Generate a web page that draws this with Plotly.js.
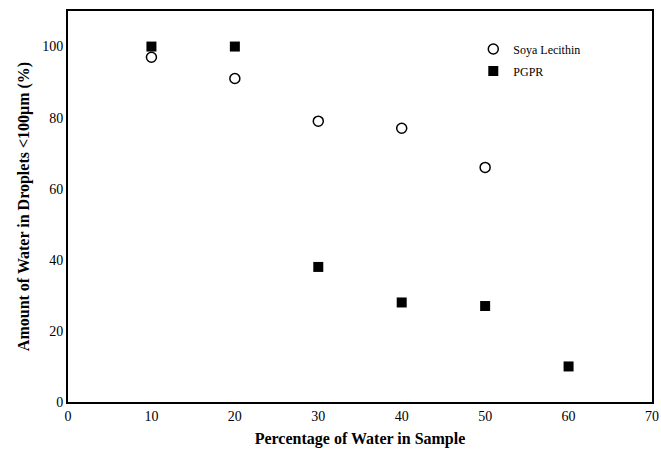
<!DOCTYPE html>
<html><head><meta charset="utf-8">
<script src="https://cdn.plot.ly/plotly-3.0.1.min.js"></script>
<style>body{margin:0;padding:0;background:#fff}#chart{width:661px;height:451px}</style>
</head><body><div id="chart"></div>
<script>
const soyaX = [10, 20, 30, 40, 50];
const soyaY = [97, 91, 79, 77, 66];
const pgprX = [10, 20, 30, 40, 50, 60];
const pgprY = [100, 100, 38, 28, 27, 10];
const xTicks = [0, 10, 20, 30, 40, 50, 60, 70];
const yTicks = [0, 20, 40, 60, 80, 100];

const font = 'Liberation Serif, Times New Roman, serif';
const data = [
  {x: soyaX, y: soyaY, mode: 'markers', type: 'scatter', name: 'Soya Lecithin', legendgroup: 'a',
   marker: {symbol: 'circle-open', size: 10, color: '#000', line: {width: 1.5, color: '#000'}}},
  {x: pgprX, y: pgprY, mode: 'markers', type: 'scatter', name: 'PGPR', legendgroup: 'b',
   marker: {symbol: 'square', size: 10, color: '#000'}}
];
const layout = {
  width: 661, height: 451,
  margin: {l: 68, r: 9, t: 11, b: 49},
  paper_bgcolor: '#fff', plot_bgcolor: '#fff',
  font: {family: font, color: '#000', size: 14},
  showlegend: true,
  legend: {x: 0.694, y: 0.94, xanchor: 'left', yanchor: 'top', bgcolor: 'rgba(0,0,0,0)',
           font: {family: font, size: 12, color: '#000'}, tracegroupgap: 3},
  xaxis: {range: [0, 70], tickvals: xTicks, ticks: '', showgrid: false, zeroline: false,
          showline: true, linecolor: '#000', linewidth: 2, mirror: true,
          title: {text: 'Percentage of Water in Sample', font: {family: font, size: 16, color: '#000', weight: 'bold'}, standoff: 10},
          tickfont: {family: font, size: 14, color: '#000'}},
  yaxis: {range: [0, 110], tickvals: yTicks, ticks: '', showgrid: false, zeroline: false,
          showline: true, linecolor: '#000', linewidth: 2, mirror: true,
          title: {text: 'Amount of Water in Droplets <100μm (%)', font: {family: font, size: 16, color: '#000', weight: 'bold'}, standoff: 9},
          tickfont: {family: font, size: 14, color: '#000'}}
};
Plotly.newPlot('chart', data, layout, {displayModeBar: false});
</script></body></html>
